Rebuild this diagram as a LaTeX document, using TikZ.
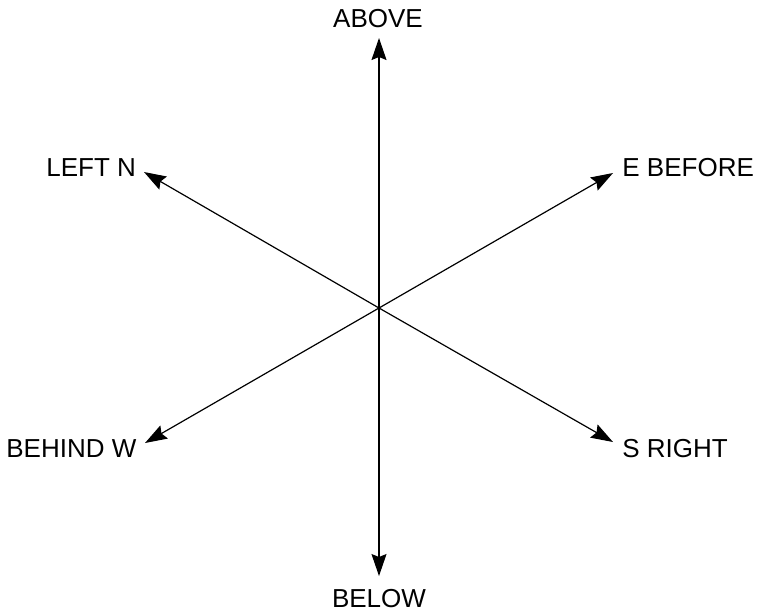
\documentclass[tikz,border=0pt]{standalone}
\usepackage{fontspec}
\setmainfont{Liberation Sans}
\usetikzlibrary{arrows.meta,positioning,calc}

\begin{document}
\begin{tikzpicture}[
    x=0.5pt, y=-0.5pt,
    axis/.style={line width=0.6pt, black, -{Stealth[length=11pt, width=7.5pt, inset=1.5pt]}},
    lbl/.style={inner sep=0pt, font=\fontsize{13}{15}\selectfont}
]
    \useasboundingbox (0,0) rectangle (758,612);

    % Origin and arrow tips (hexagonal star, 30 degree steps)
    \coordinate (o) at (379,308);
    \coordinate (above) at ($(o)+(0,-270)$);
    \coordinate (below) at ($(o)+(0,268)$);
    \coordinate (leftn) at ($(o)+(-235,-136)$);
    \coordinate (ebefore) at ($(o)+(234,-135)$);
    \coordinate (behindw) at ($(o)+(-234,135)$);
    \coordinate (sright) at ($(o)+(234,134)$);

    % Labels
    \node[lbl, anchor=base] (labove) at (378,27) {ABOVE};
    \node[lbl, anchor=base] (lbelow) at (379,607) {BELOW};
    \node[lbl, anchor=base west] (lleftn) at (46,176) {LEFT N};
    \node[lbl, anchor=base west] (lebefore) at (622,176) {E BEFORE};
    \node[lbl, anchor=base west] (lbehindw) at (6,457) {BEHIND W};
    \node[lbl, anchor=base west] (lsright) at (622,457) {S RIGHT};

    % Arrows
    \draw[axis] (o) -- (above);
    \draw[axis] (o) -- (below);
    \draw[axis] (o) -- (leftn);
    \draw[axis] (o) -- (ebefore);
    \draw[axis] (o) -- (behindw);
    \draw[axis] (o) -- (sright);

\end{tikzpicture}
\end{document}
